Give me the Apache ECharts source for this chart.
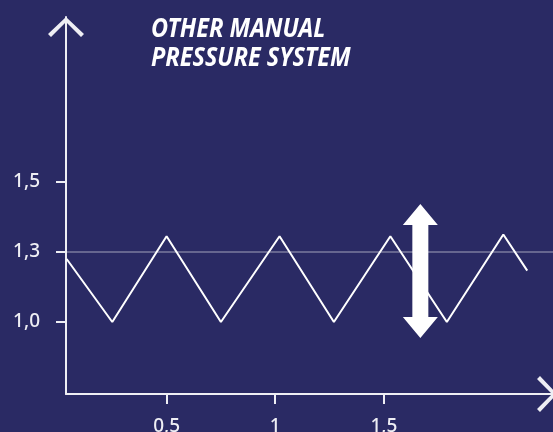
<!DOCTYPE html>
<html>
<head>
<meta charset="utf-8">
<script src="https://cdn.jsdelivr.net/npm/echarts@6/dist/echarts.min.js"></script>
<style>
html,body{margin:0;padding:0;background:#2a2a64;}
#chart{width:553px;height:432px;}
</style>
</head>
<body>
<div id="chart"></div>
<script>
// Axis tick labels
var xTickValues = [0.5, 1, 1.5];
var xTickLabels = ['0,5', '1', '1,5'];
var yTickValues = [1.0, 1.3, 1.5];
var yTickLabels = ['1,0', '1,3', '1,5'];

// Pressure zig-zag (x position, pressure)
var seriesX = [0.04, 0.25, 0.5, 0.75, 1.02, 1.27, 1.53, 1.79, 2.05, 2.16];
var seriesY = [1.27, 1.0, 1.345, 1.0, 1.345, 1.0, 1.345, 1.0, 1.35, 1.22];

// Reference line level
var refLevel = 1.3;

// Double arrow annotation: x, top pressure, bottom pressure
var arrowX = 1.668;
var arrowTop = 1.437;
var arrowBottom = 0.931;

// The pressure axis is drawn with evenly spaced labelled levels (1,0 / 1,3 / 1,5)
function level(v) {
  if (v <= yTickValues[1]) return (v - yTickValues[0]) / (yTickValues[1] - yTickValues[0]);
  return 1 + (v - yTickValues[1]) / (yTickValues[2] - yTickValues[1]);
}

var lineData = seriesX.map(function (x, i) { return [x, level(seriesY[i])]; });
var yLevels = yTickValues.map(level);

var chevron = 'path://M18 0 L36 17 L33 20 L18 5 L3 20 L0 17 Z';
var axisColor = '#eeeef4';
var labelColor = '#eeeef4';
var font = '"Noto Sans", "Open Sans", sans-serif';

var chart = echarts.init(document.getElementById('chart'));
chart.setOption({
  backgroundColor: '#2a2a64',
  animation: false,
  grid: { left: 66, top: 17, width: 491, height: 377, containLabel: false, outerBoundsMode: 'none' },
  xAxis: {
    type: 'value',
    min: 0.037,
    max: 2.297,
    splitLine: { show: false },
    axisLine: {
      show: true,
      onZero: false,
      lineStyle: { color: axisColor, width: 2 },
      symbol: ['none', chevron],
      symbolSize: [36, 20],
      symbolOffset: [0, -10]
    },
    axisTick: { show: true, customValues: xTickValues, length: 10, lineStyle: { color: axisColor, width: 2 } },
    axisLabel: {
      customValues: xTickValues,
      margin: 23,
      color: labelColor,
      fontSize: 19,
      fontWeight: 500,
      fontFamily: font,
      formatter: function (v) {
        var i = xTickValues.indexOf(v);
        return i >= 0 ? xTickLabels[i] : '';
      }
    }
  },
  yAxis: {
    type: 'value',
    min: -1.0286,
    max: 4.3571,
    splitLine: { show: false },
    axisLine: {
      show: true,
      onZero: false,
      lineStyle: { color: axisColor, width: 2 },
      symbol: ['none', chevron],
      symbolSize: [36, 20],
      symbolOffset: [0, -10]
    },
    axisTick: { show: true, customValues: yLevels, length: 10, lineStyle: { color: axisColor, width: 2 } },
    axisLabel: {
      customValues: yLevels,
      margin: 26,
      color: labelColor,
      fontSize: 19,
      fontWeight: 500,
      fontFamily: font,
      formatter: function (v) {
        for (var i = 0; i < yLevels.length; i++) {
          if (Math.abs(yLevels[i] - v) < 1e-6) return yTickLabels[i];
        }
        return '';
      }
    }
  },
  graphic: [{
    type: 'text',
    left: 151,
    top: 15,
    scaleX: 0.9,
    style: {
      text: 'OTHER MANUAL\nPRESSURE SYSTEM',
      fill: '#ffffff',
      font: 'italic bold 26px "Noto Sans", sans-serif',
      lineHeight: 29
    }
  }],
  series: [{
    type: 'line',
    data: lineData,
    showSymbol: false,
    lineStyle: { color: '#ffffff', width: 2 },
    z: 3,
    markLine: {
      silent: true,
      symbol: ['none', 'none'],
      label: { show: false },
      lineStyle: { color: 'rgba(255,255,255,0.38)', width: 1.5, type: 'solid' },
      data: [{ yAxis: level(refLevel) }]
    }
  }, {
    type: 'custom',
    clip: false,
    z: 5,
    data: [[arrowX, arrowTop, arrowBottom]],
    renderItem: function (params, api) {
      var t = api.coord([api.value(0), level(api.value(1))]);
      var b = api.coord([api.value(0), level(api.value(2))]);
      var cx = t[0], ty = t[1], by = b[1];
      var hw = 17.5, sw = 8, hh = 21;
      return {
        type: 'polygon',
        shape: {
          points: [
            [cx, ty], [cx + hw, ty + hh], [cx + sw, ty + hh], [cx + sw, by - hh],
            [cx + hw, by - hh], [cx, by], [cx - hw, by - hh], [cx - sw, by - hh],
            [cx - sw, ty + hh], [cx - hw, ty + hh]
          ]
        },
        style: { fill: '#ffffff' }
      };
    }
  }]
});
</script>
</body>
</html>
